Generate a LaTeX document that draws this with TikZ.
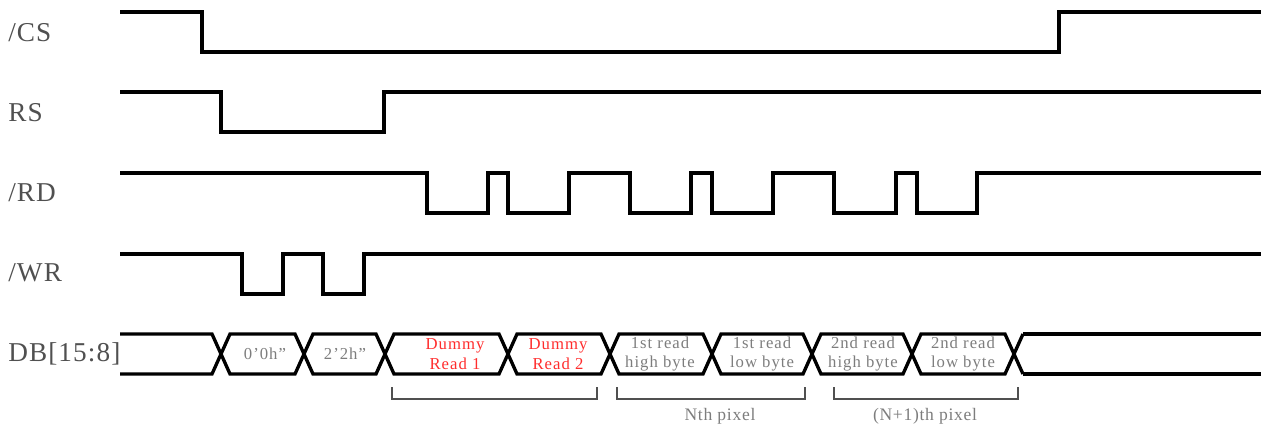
\documentclass[tikz,border=0pt]{standalone}
\usepackage{fontspec}
\setmainfont{Liberation Serif}
\usetikzlibrary{positioning}
\definecolor{lblgray}{RGB}{80,80,80}
\definecolor{txtgray}{RGB}{125,125,125}
\definecolor{dummyred}{RGB}{255,45,45}
\tikzset{
  wave/.style={line width=1.9pt, line join=miter},
  thickwave/.style={line width=2.5pt, line join=miter},
  sig/.style={anchor=west, text=lblgray, inner sep=0pt, font=\fontsize{15.5}{18}\selectfont\addfontfeature{LetterSpace=4}},
  cell/.style={align=center, inner sep=0pt, font=\fontsize{9.5}{11}\selectfont\addfontfeature{LetterSpace=6}, text=txtgray},
  brace/.style={line width=0.8pt, draw=lblgray},
  pixlbl/.style={inner sep=0pt, text=txtgray, font=\fontsize{10}{12}\selectfont\addfontfeature{LetterSpace=4}}
}
\begin{document}
\begin{tikzpicture}[x=0.02cm, y=-0.02cm]
  \useasboundingbox (0,0) rectangle (1265,427);
  % signal names
  \node[sig] (lcs) at (8,33) {/CS};
  \node[sig] (lrs) at (8,113) {RS};
  \node[sig] (lrd) at (8,193) {/RD};
  \node[sig] (lwr) at (8,273) {/WR};
  \node[sig] (ldb) at (8,354) {DB[15:8]};
  % control lines
  \draw[wave] (120,12) -- (202,12) -- (202,52) -- (1059,52) -- (1059,12) -- (1261,12);
  \draw[wave] (120,92) -- (221,92) -- (221,132) -- (384,132) -- (384,92) -- (1261,92);
  \draw[thickwave] (120,173) -- (427,173) -- (427,213) -- (488,213) -- (488,173) -- (508,173)
    -- (508,213) -- (569,213) -- (569,173) -- (630,173) -- (630,213) -- (691,213) -- (691,173)
    -- (712,173) -- (712,213) -- (773,213) -- (773,173) -- (834,173) -- (834,213) -- (896,213)
    -- (896,173) -- (917,173) -- (917,213) -- (977,213) -- (977,173) -- (1261,173);
  \draw[wave] (120,254) -- (242,254) -- (242,294) -- (283,294) -- (283,254) -- (323,254)
    -- (323,294) -- (364,294) -- (364,254) -- (1261,254);
  % data bus
  \draw[wave] (120,334) -- (212,334) -- (230,374) -- (295,374) -- (313,334) -- (376,334)
    -- (394,374) -- (499,374) -- (517,334) -- (601,334) -- (619,374) -- (703,374)
    -- (721,334) -- (803,334) -- (821,374) -- (903,374) -- (921,334) -- (1005,334) -- (1023,374);
  \draw[wave] (120,374) -- (212,374) -- (230,334) -- (295,334) -- (313,374) -- (376,374)
    -- (394,334) -- (499,334) -- (517,374) -- (601,374) -- (619,334) -- (703,334)
    -- (721,374) -- (803,374) -- (821,334) -- (903,334) -- (921,374) -- (1005,374) -- (1023,334);
  \draw[thickwave] (1023,334) -- (1261,334);
  \draw[thickwave] (1023,374) -- (1261,374);
  % bus contents
  \node[cell] (d00) at (265,354) {0’0h”};
  \node[cell] (d22) at (345,354) {2’2h”};
  \node[cell, text=dummyred] (dr1) at (455,354) {Dummy\\Read 1};
  \node[cell, text=dummyred] (dr2) at (558,354) {Dummy\\Read 2};
  \node[cell] (r1h) at (660,354) {1st read\\high byte};
  \node[cell] (r1l) at (762,354) {1st read\\low byte};
  \node[cell] (r2h) at (863,354) {2nd read\\high byte};
  \node[cell] (r2l) at (963,354) {2nd read\\low byte};
  % brackets
  \draw[brace] (392,387) -- (392,399) -- (597,399) -- (597,387);
  \draw[brace] (617,387) -- (617,399) -- (805,399) -- (805,387);
  \draw[brace] (834,387) -- (834,399) -- (1018,399) -- (1018,387);
  \node[pixlbl] (npx) at (720,416) {Nth pixel};
  \node[pixlbl] (n1px) at (925,416) {(N+1)th pixel};
\end{tikzpicture}
\end{document}
